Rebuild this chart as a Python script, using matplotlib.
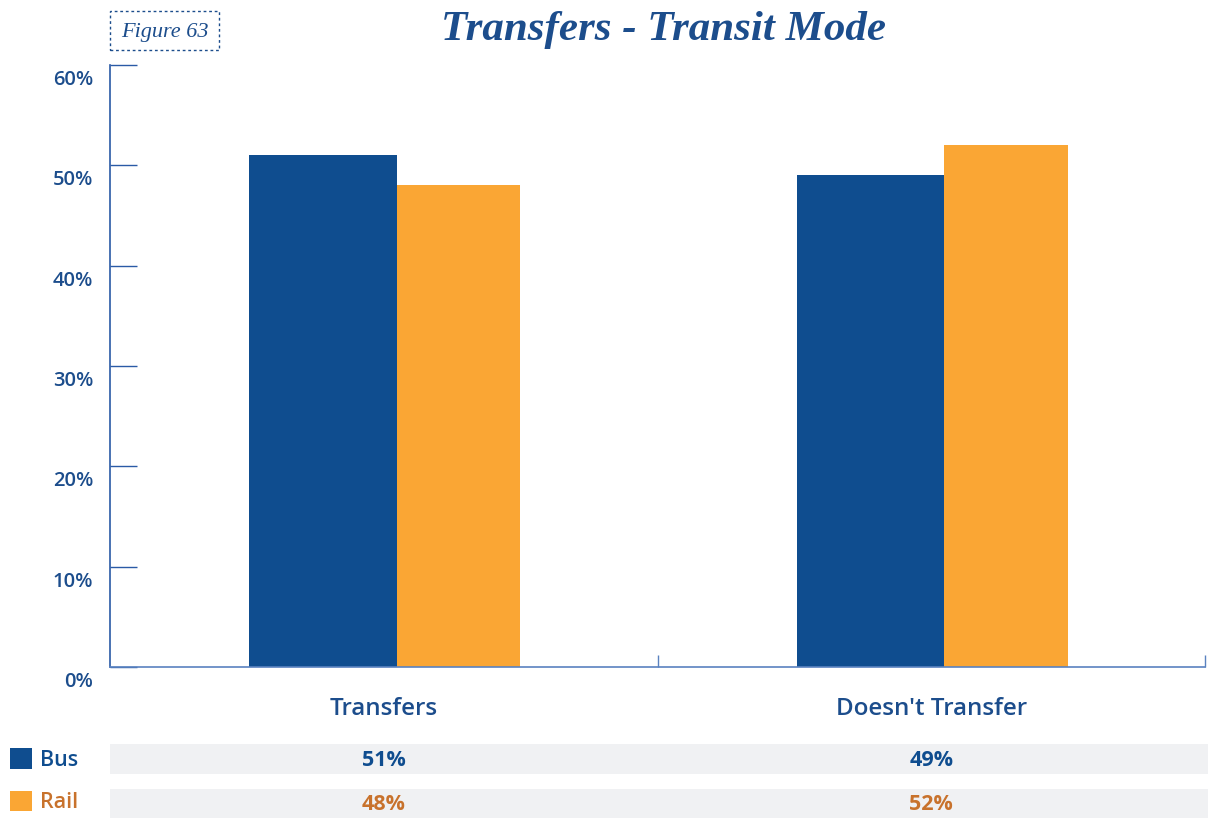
import matplotlib
matplotlib.use("Agg")
import matplotlib.pyplot as plt
from matplotlib.transforms import ScaledTranslation, blended_transform_factory
from matplotlib.patches import Rectangle

# Data
categories = ["Transfers", "Doesn't Transfer"]
series_names = ["Bus", "Rail"]
bus_values = [51, 49]
rail_values = [48, 52]
y_ticks = [0, 10, 20, 30, 40, 50, 60]
y_tick_labels = ["0%", "10%", "20%", "30%", "40%", "50%", "60%"]

BUS = "#0f4d8f"
RAIL = "#faa634"
RAIL_TEXT = "#c8722c"
NAVY = "#1c4d8c"
AXIS = "#2a5aa6"
AXIS_LIGHT = "#5a82c0"
BAND = "#f0f1f3"
SANS = "Open Sans"

W, H = 1208, 819
fig = plt.figure(figsize=(W / 100, H / 100), dpi=100)
fig.patch.set_facecolor("white")

def px_rect(x0, y0, x1, y1):
    """Convert a pixel box (top-left origin) to figure fractions."""
    return [x0 / W, 1 - y1 / H, (x1 - x0) / W, (y1 - y0) / H]

ax = fig.add_axes(px_rect(110, 65, 1205, 667))
ax.set_xlim(0, 2)
ax.set_ylim(0, 60)

# Bars: bus on the left, rail on the right of each category centre
centers = [0.5 + i for i in range(len(categories))]
bus_left, bus_w = -0.246, 0.270
rail_left, rail_w = 0.024, 0.225
for c, b, r in zip(centers, bus_values, rail_values):
    ax.bar(c + bus_left, b, width=bus_w, align="edge", color=BUS, linewidth=0)
    ax.bar(c + rail_left, r, width=rail_w, align="edge", color=RAIL, linewidth=0)

for s in ["top", "right"]:
    ax.spines[s].set_visible(False)
ax.spines["left"].set_color(AXIS)
ax.spines["left"].set_linewidth(1.2)
ax.spines["bottom"].set_color(AXIS_LIGHT)
ax.spines["bottom"].set_linewidth(1.2)

ax.set_yticks(y_ticks)
ax.set_yticklabels(y_tick_labels)
ax.tick_params(axis="y", direction="in", length=19.5, width=1.0, color=AXIS,
               labelsize=14.5, labelcolor=NAVY, pad=12)
for lab in ax.get_yticklabels():
    lab.set_fontfamily(SANS)
    lab.set_fontweight("semibold")
    lab.set_transform(lab.get_transform() + ScaledTranslation(0, -0.125, fig.dpi_scale_trans))

ax.set_xticks([1, 2])
ax.set_xticklabels([])
ax.tick_params(axis="x", direction="in", length=9, width=1.0, color=AXIS_LIGHT)

# Category labels under the axis
tr = blended_transform_factory(ax.transData, fig.transFigure)
for c, name in zip(centers, categories):
    fig.text(c, 1 - 709 / H, name, transform=tr, ha="center", va="center",
             fontsize=17.4, color=NAVY, fontfamily=SANS, fontweight="semibold")

# Title and figure tag
fig.text(663 / W, 1 - 30 / H, "Transfers - Transit Mode", ha="center", va="center",
         fontsize=31, color=NAVY, fontfamily="Liberation Serif",
         fontweight="bold", fontstyle="italic")
fig.patches.append(Rectangle((110 / W, 1 - 50 / H), 109 / W, 39 / H,
                             transform=fig.transFigure, fill=False,
                             edgecolor=NAVY, linewidth=1.0, linestyle=(0, (2, 2))))
fig.text(164.5 / W, 1 - 32 / H, "Figure 63", ha="center", va="center",
         fontsize=16, color=NAVY, fontfamily="Liberation Serif", fontstyle="italic")

# Value table rows with legend keys
rows = [
    ("Bus", bus_values, BUS, BUS, 744, 774, 748, 769),
    ("Rail", rail_values, RAIL, RAIL_TEXT, 789, 818, 791, 811),
]
for name, vals, key_color, text_color, y0, y1, k0, k1 in rows:
    fig.patches.append(Rectangle((110 / W, 1 - y1 / H), (W - 110) / W, (y1 - y0) / H,
                                 transform=fig.transFigure, facecolor=BAND,
                                 edgecolor="none"))
    fig.patches.append(Rectangle((10 / W, 1 - k1 / H), 22 / W, (k1 - k0) / H,
                                 transform=fig.transFigure, facecolor=key_color,
                                 edgecolor="none"))
    ym = 1 - ((y0 + y1) / 2 + 1.5) / H
    fig.text(40 / W, 1 - ((k0 + k1) / 2 + 2) / H, name, ha="left", va="center",
             fontsize=15.5, color=text_color, fontfamily=SANS, fontweight="semibold")
    for c, v in zip(centers, vals):
        fig.text(c, ym, f"{v}%", transform=tr, ha="center", va="center",
                 fontsize=15.5, color=text_color, fontfamily=SANS, fontweight="bold")

fig.savefig("out.png", dpi=100)
